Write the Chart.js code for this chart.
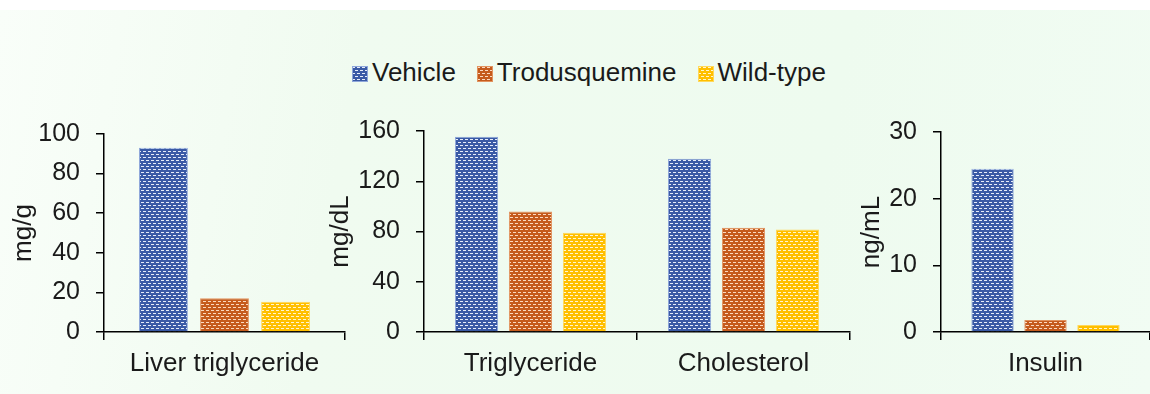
<!DOCTYPE html>
<html>
<head>
<meta charset="utf-8">
<script src="https://cdn.jsdelivr.net/npm/chart.js@4.4.0/dist/chart.umd.min.js"></script>
<style>
  html, body { margin: 0; padding: 0; }
  body {
    width: 1150px; height: 394px; position: relative; overflow: hidden;
    background: #ffffff;
    font-family: "Liberation Sans", Arial, sans-serif;
  }
  #fondo {
    position: absolute; left: 0; top: 10px; width: 1150px; height: 384px;
    background: linear-gradient(100deg, #f9fef9 0%, #f0fbf0 30%, #eefbef 70%, #f1fcf3 100%);
  }
  canvas.painel { position: absolute; top: 0; }
  #legenda {
    position: absolute; left: 352px; top: 57px;
    display: flex; align-items: center; gap: 21px;
    font-size: 26px; line-height: 30px; color: #1a1a1a;
  }
  #legenda .item { display: flex; align-items: center; }
  #legenda canvas { margin-right: 4px; margin-top: 3px; }
</style>
</head>
<body>
<div id="fondo"></div>
<div id="legenda"></div>
<canvas id="g1" class="painel" width="342" height="394" style="left:8px"></canvas>
<canvas id="g2" class="painel" width="530" height="394" style="left:325px"></canvas>
<canvas id="g3" class="painel" width="294" height="394" style="left:856px"></canvas>

<script>
// grupos
const grupos = ['Vehicle', 'Trodusquemine', 'Wild-type'];

// fígado (mg/g)
const figadoCats = ['Liver triglyceride'];
const figadoVehicle = [93];
const figadoTrod = [17];
const figadoWild = [15.3];
const figadoTicks = [0, 20, 40, 60, 80, 100];

// plasma (mg/dL)
const plasmaCats = ['Triglyceride', 'Cholesterol'];
const plasmaVehicle = [155.5, 138];
const plasmaTrod = [96, 83];
const plasmaWild = [79, 81.5];
const plasmaTicks = [0, 40, 80, 120, 160];

// insulina (ng/mL)
const insulinaCats = ['Insulin'];
const insulinaVehicle = [24.5];
const insulinaTrod = [1.8];
const insulinaWild = [1.05];
const insulinaTicks = [0, 10, 20, 30];

const cores = [
    { base: '#3a5aa6', ponto: '#e6ecf9', borda: '#8ea6da' },
    { base: '#c55b1d', ponto: '#fbd9c0', borda: '#e2935f' },
    { base: '#ffbf00', ponto: '#fff5d0', borda: '#ffd85a' }
];

// textura pontilhada das barras
function criarPadrao(base, ponto) {
    const c = document.createElement('canvas');
    c.width = 10;
    c.height = 6;
    const g = c.getContext('2d');
    g.fillStyle = base;
    g.fillRect(0, 0, 10, 6);
    g.fillStyle = ponto;
    g.fillRect(0, 1, 3, 1);
    g.fillRect(5, 1, 3, 1);
    g.fillRect(3, 4, 3, 1);
    g.fillRect(8, 4, 2, 1);
    g.fillRect(0, 4, 1, 1);
    return g.createPattern(c, 'repeat');
}

const padroes = cores.map(c => criarPadrao(c.base, c.ponto));

Chart.defaults.font.family = '"Liberation Sans", Arial, sans-serif';
Chart.defaults.font.size = 25;
Chart.defaults.color = '#1a1a1a';

function montarDatasets(series) {
    return series.map((valores, i) => ({
        label: grupos[i],
        data: valores,
        backgroundColor: padroes[i],
        borderColor: cores[i].borda,
        borderWidth: 1,
        categoryPercentage: 0.76,
        barPercentage: 0.8
    }));
}

function criarGrafico(id, cats, series, ticks, titulo, eixoLargura, topo, direita) {
    return new Chart(document.getElementById(id), {
        type: 'bar',
        data: {
            labels: cats,
            datasets: montarDatasets(series)
        },
        options: {
            responsive: false,
            animation: false,
            layout: { padding: { top: topo, right: direita, left: 0, bottom: 0 } },
            plugins: {
                legend: { display: false },
                tooltip: { enabled: false }
            },
            scales: {
                x: {
                    offset: true,
                    grid: {
                        offset: true,
                        drawOnChartArea: false,
                        tickLength: 8,
                        color: '#000',
                        lineWidth: 1.5
                    },
                    border: { display: true, color: '#000', width: 1.5 },
                    ticks: { padding: 8, font: { size: 26 } },
                    afterFit: s => { s.height = 62; }
                },
                y: {
                    min: ticks[0],
                    max: ticks[ticks.length - 1],
                    afterBuildTicks: s => { s.ticks = ticks.map(v => ({ value: v })); },
                    grid: {
                        drawOnChartArea: false,
                        tickLength: 8,
                        color: '#000',
                        lineWidth: 1.5
                    },
                    border: { display: true, color: '#000', width: 1.5 },
                    ticks: { padding: 16 },
                    title: {
                        display: true,
                        text: titulo,
                        font: { size: 26 },
                        padding: { top: 0, bottom: 0 }
                    },
                    afterFit: s => { s.width = eixoLargura; }
                }
            }
        }
    });
}

criarGrafico('g1', figadoCats, [figadoVehicle, figadoTrod, figadoWild], figadoTicks, 'mg/g', 96, 134, 5);
criarGrafico('g2', plasmaCats, [plasmaVehicle, plasmaTrod, plasmaWild], plasmaTicks, 'mg/dL', 99, 131, 5);
criarGrafico('g3', insulinaCats, [insulinaVehicle, insulinaTrod, insulinaWild], insulinaTicks, 'ng/mL', 85, 132, 0);

// legenda comum
const legenda = document.getElementById('legenda');
grupos.forEach((nome, i) => {
    const item = document.createElement('div');
    item.className = 'item';
    const caixa = document.createElement('canvas');
    caixa.width = 16;
    caixa.height = 16;
    const g = caixa.getContext('2d');
    g.fillStyle = padroes[i];
    g.fillRect(0, 0, 16, 16);
    g.strokeStyle = cores[i].borda;
    g.strokeRect(0.5, 0.5, 15, 15);
    const texto = document.createElement('span');
    texto.textContent = nome;
    item.appendChild(caixa);
    item.appendChild(texto);
    legenda.appendChild(item);
});
</script>
</body>
</html>
